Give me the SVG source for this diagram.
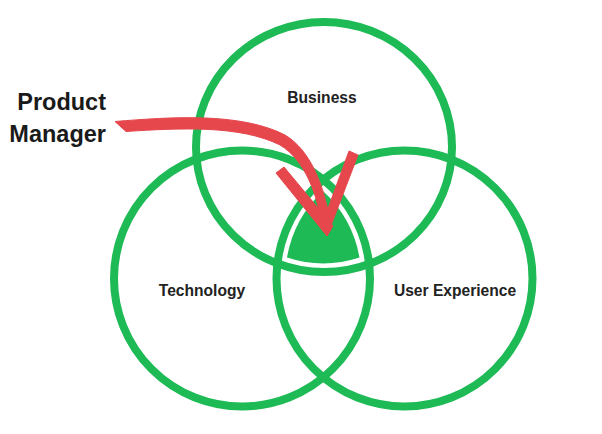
<svg xmlns="http://www.w3.org/2000/svg" width="602" height="434" viewBox="0 0 602 434">
  <style>
    .ring { fill: none; stroke: #1dba55; stroke-width: 8; }
    .core { fill: #1dba55; }
    .lbl { font-family: "Liberation Sans", Arial, sans-serif; font-weight: bold; fill: #222222; text-anchor: middle; font-size: 15.6px; }
    .pm { font-family: "Liberation Sans", Arial, sans-serif; font-weight: bold; fill: #1a1a1a; text-anchor: end; font-size: 23.5px; }
    .arrow { fill: #e5474d; stroke: #e5474d; stroke-width: 1; stroke-linejoin: round; }
  </style>
  <rect width="602" height="434" fill="#ffffff"/>
  <g id="business">
    <ellipse class="ring" cx="324" cy="147" rx="128" ry="125"/>
    <text class="lbl" x="322" y="103">Business</text>
  </g>
  <g id="technology">
    <circle class="ring" cx="242" cy="278.5" r="128"/>
    <text class="lbl" x="202" y="295.5">Technology</text>
  </g>
  <g id="user-experience">
    <circle class="ring" cx="404.5" cy="278.5" r="128"/>
    <text class="lbl" x="455" y="295.5">User Experience</text>
  </g>
  <g id="core">
    <path class="core" d="M323,191 A119,119 0 0 0 287,257.5 A116,116 0 0 0 359.5,257.5 A119,119 0 0 0 323,191 Z"/>
  </g>
  <g id="product-manager">
    <text class="pm" x="106" y="110">Product</text>
    <text class="pm" x="106" y="142">Manager</text>
  </g>
  <g id="connectors">
    <path class="arrow" d="M115,121.5 C170,117 240,112 285,135 C310,150 325,185 331,228 L327,235 L322,228 C318,195 305,160 280,145 C240,125 180,128 126,131.5 Z"/>
    <polygon class="arrow" points="276,173 284,167 333,226 327,236"/>
    <polygon class="arrow" points="349,151 358,155 327,236 322,225"/>
  </g>
</svg>
